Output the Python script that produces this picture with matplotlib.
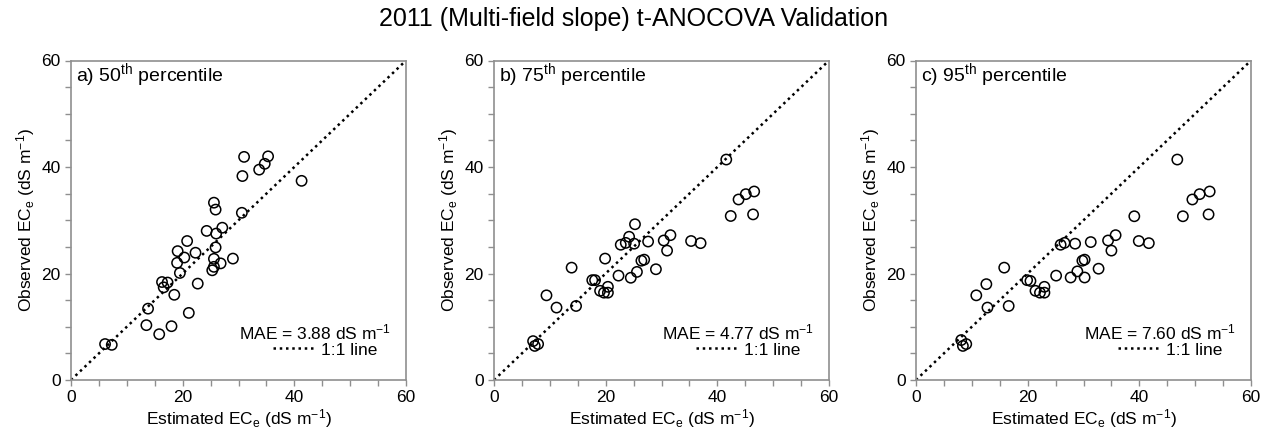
import numpy as np
import matplotlib.pyplot as plt
from matplotlib.ticker import MultipleLocator

# ----------------------------
# Data
# ----------------------------
TITLE = "2011 (Multi-field slope) t-ANOCOVA Validation"

EST_50 = [6.1, 7.3, 13.5, 13.8, 15.8, 18.0, 21.1, 18.5, 22.7, 16.3, 16.6, 17.3,
          19.5, 19.0, 19.1, 20.3, 20.8, 22.3, 24.3, 25.3, 25.6, 25.6, 26.8, 25.9,
          26.0, 27.1, 25.6, 25.9, 29.0, 30.6, 30.7, 31.0, 33.7, 34.7, 35.3, 41.3]
OBS_50 = [6.75, 6.6, 10.3, 13.4, 8.6, 10.1, 12.6, 16.0, 18.1, 18.4, 17.4, 18.3,
          20.1, 22.0, 24.2, 23.0, 26.1, 23.9, 28.0, 20.6, 21.25, 22.75, 21.9, 24.9,
          27.5, 28.6, 33.3, 32.0, 22.8, 31.4, 38.3, 41.9, 39.5, 40.6, 42.0, 37.4]

EST_75 = [7.0, 7.3, 7.9, 9.4, 11.2, 14.7, 13.9, 17.6, 18.1, 19.0, 19.7, 20.4,
          20.4, 19.9, 22.3, 22.7, 23.6, 24.2, 25.1, 25.25, 24.5, 25.6, 26.4, 26.9,
          27.6, 29.0, 30.4, 31.0, 31.6, 35.3, 37.0, 41.6, 42.4, 43.8, 45.1, 46.6, 46.4]
OBS_75 = [7.3, 6.4, 6.75, 15.9, 13.6, 13.9, 21.1, 18.75, 18.75, 16.75, 16.4, 16.4,
          17.5, 22.8, 19.6, 25.4, 25.75, 26.9, 25.6, 29.25, 19.2, 20.3, 22.4, 22.6,
          26.0, 20.8, 26.2, 24.3, 27.2, 26.1, 25.7, 41.4, 30.8, 33.9, 34.9, 35.4, 31.1]

EST_95 = [8.1, 8.4, 9.0, 10.8, 12.6, 12.8, 15.8, 16.6, 19.9, 20.5, 21.4, 22.2,
          23.0, 23.0, 25.1, 25.9, 26.6, 27.7, 28.5, 28.9, 29.8, 30.2, 30.2, 31.3,
          32.7, 34.4, 35.0, 35.75, 39.1, 39.9, 41.7, 46.8, 47.8, 49.5, 50.8, 52.6, 52.4]
OBS_95 = [7.5, 6.4, 6.75, 15.9, 18.0, 13.6, 21.1, 13.9, 18.75, 18.6, 16.75, 16.4,
          16.4, 17.5, 19.6, 25.4, 25.75, 19.25, 25.6, 20.4, 22.4, 22.6, 19.25, 25.9,
          20.9, 26.2, 24.3, 27.2, 30.75, 26.1, 25.7, 41.4, 30.75, 33.9, 34.9, 35.4, 31.1]

PANEL_LABELS = ["a) 50$^{\\mathrm{th}}$ percentile",
                "b) 75$^{\\mathrm{th}}$ percentile",
                "c) 95$^{\\mathrm{th}}$ percentile"]
MAE_VALUES = [3.88, 4.77, 7.60]

AX_LIMIT = 60

# ----------------------------
# Style
# ----------------------------
plt.rcParams["font.family"] = ["Liberation Sans", "DejaVu Sans"]
plt.rcParams["mathtext.fontset"] = "custom"
plt.rcParams["mathtext.rm"] = "Liberation Sans"
plt.rcParams["mathtext.it"] = "Liberation Sans"
plt.rcParams["mathtext.default"] = "regular"

SPINE_COLOR = "#8f8f8f"
FS = 12.5


def draw_panel(ax, est, obs, label, mae):
    line, = ax.plot([0, AX_LIMIT], [0, AX_LIMIT], color="black",
                    linestyle=(0, (1, 1.5)), linewidth=1.8, label="1:1 line")
    ax.scatter(est, obs, s=55, facecolors="none", edgecolors="black",
               linewidths=1.1, zorder=3)

    ax.set_xlim(0, AX_LIMIT)
    ax.set_ylim(0, AX_LIMIT)
    ax.xaxis.set_major_locator(MultipleLocator(20))
    ax.yaxis.set_major_locator(MultipleLocator(20))
    ax.xaxis.set_minor_locator(MultipleLocator(5))
    ax.yaxis.set_minor_locator(MultipleLocator(5))
    ax.tick_params(which="both", direction="out", length=4, width=1,
                   color=SPINE_COLOR, labelsize=FS)
    for sp in ax.spines.values():
        sp.set_color(SPINE_COLOR)
        sp.set_linewidth(1.2)

    ax.set_xlabel("Estimated EC$_e$ (dS m$^{-1}$)", fontsize=FS, labelpad=1)
    ax.set_ylabel("Observed EC$_e$ (dS m$^{-1}$)", fontsize=FS, labelpad=3)

    ax.text(0.015, 0.953, label, transform=ax.transAxes, fontsize=14,
            ha="left", va="center")
    ax.text(0.955, 0.150, f"MAE = {mae:.2f} dS m$^{{-1}}$",
            transform=ax.transAxes, fontsize=FS, ha="right", va="center")
    ax.legend(handles=[line], loc="center right", bbox_to_anchor=(0.915, 0.094),
              frameon=False, fontsize=FS, borderpad=0, borderaxespad=0,
              handlelength=2.4, handletextpad=0.4)


# ----------------------------
# Figure
# ----------------------------
fig = plt.figure(figsize=(12.68, 4.32), dpi=100)

lefts = [71, 494, 916]
datasets = [(EST_50, OBS_50), (EST_75, OBS_75), (EST_95, OBS_95)]

for left, (est, obs), label, mae in zip(lefts, datasets, PANEL_LABELS, MAE_VALUES):
    ax = fig.add_axes([left / 1268, 52 / 432, 335 / 1268, 319.5 / 432])
    draw_panel(ax, est, obs, label, mae)

fig.text(0.5, 0.955, TITLE, ha="center", va="center", fontsize=18)

fig.savefig("out.png", dpi=100)
